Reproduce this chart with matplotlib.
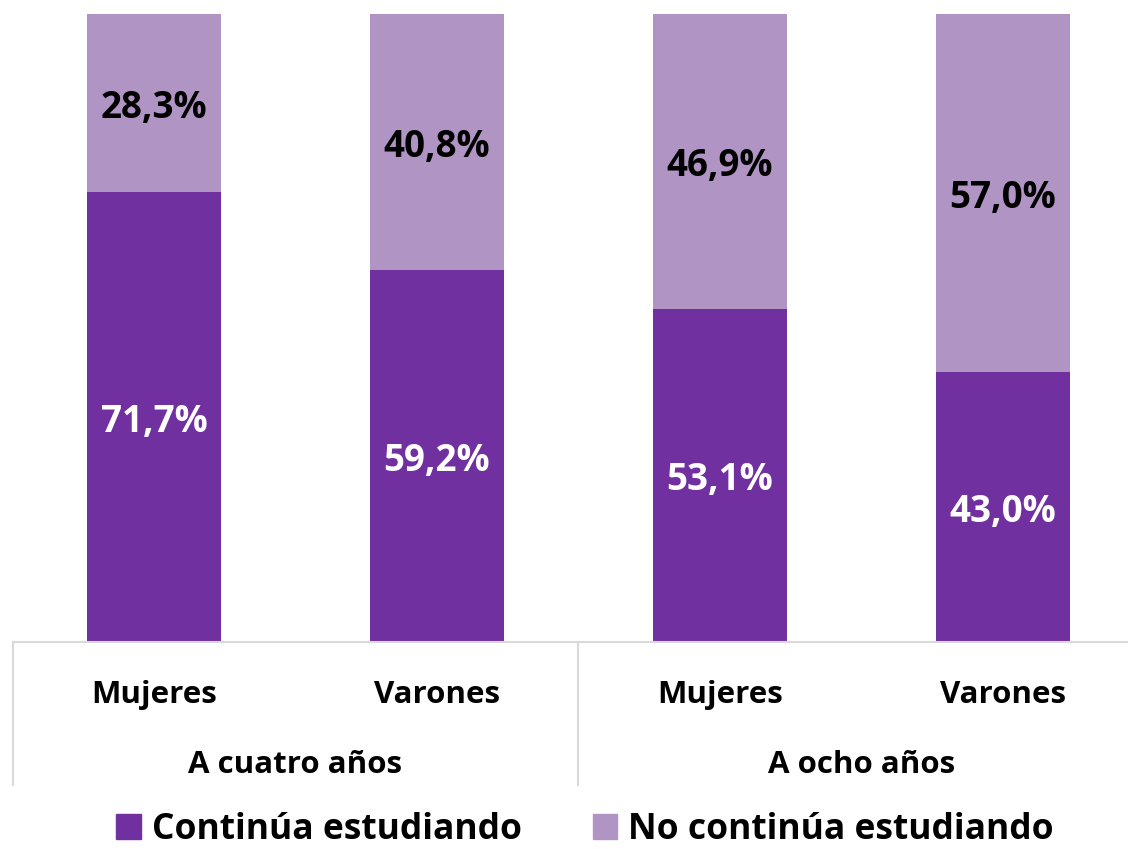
import matplotlib.pyplot as plt
from matplotlib.patches import Patch
from matplotlib.transforms import offset_copy

plt.rcParams['font.family'] = ['Open Sans', 'DejaVu Sans']
plt.rcParams['font.weight'] = 'bold'

categories = ['Mujeres', 'Varones', 'Mujeres', 'Varones']
groups = ['A cuatro años', 'A ocho años']
continua = [71.7, 59.2, 53.1, 43.0]
no_continua = [28.3, 40.8, 46.9, 57.0]

dark = '#7030A0'
light = '#B094C4'
grid = '#D9D9D9'

fig = plt.figure(figsize=(11.28, 8.49), dpi=100)
ax = fig.add_axes([12.5 / 1128, 207 / 849, 1131.5 / 1128, 628 / 849])

x = list(range(len(categories)))
ax.bar(x, continua, width=0.474, color=dark)
ax.bar(x, no_continua, width=0.474, bottom=continua, color=light)

# nudge labels a few pixels down
tdata = offset_copy(ax.transData, fig=fig, x=0, y=-5, units='dots')
txax = offset_copy(ax.get_xaxis_transform(), fig=fig, x=0, y=-3, units='dots')

for i in x:
    ax.text(i, continua[i] / 2, f"{continua[i]:.1f}%".replace('.', ','), transform=tdata,
            ha='center', va='center', color='white', fontsize=26.5, fontweight='bold')
    ax.text(i, continua[i] + no_continua[i] / 2, f"{no_continua[i]:.1f}%".replace('.', ','),
            transform=tdata, ha='center', va='center', color='black', fontsize=26.5,
            fontweight='bold')

ax.set_xlim(-0.5, 3.5)
ax.set_ylim(0, 100)
ax.set_xticks([])
ax.set_yticks([])
for s in ['top', 'right', 'left']:
    ax.spines[s].set_visible(False)
ax.spines['bottom'].set_color(grid)
ax.spines['bottom'].set_linewidth(1.5)

# multi-level category axis
for xs in [-0.5, 1.5, 3.5]:
    ax.plot([xs, xs], [0, -0.2277], color=grid, lw=1.5, clip_on=False,
            transform=ax.get_xaxis_transform())
for i, c in enumerate(categories):
    ax.text(i, -0.0796, c, transform=txax, ha='center', va='center',
            fontsize=22.5, fontweight='bold')
for g, name in enumerate(groups):
    ax.text(2 * g + 0.5, -0.191, name, transform=txax, ha='center',
            va='center', fontsize=22.5, fontweight='bold')

handles = [Patch(color=dark, label='Continúa estudiando'),
           Patch(color=light, label='No continúa estudiando')]
fig.legend(handles=handles, loc='center', bbox_to_anchor=(585 / 1128, 1 - 830 / 849),
           ncol=2, frameon=False, handlelength=0.7, handleheight=0.7, borderpad=0.1,
           handletextpad=0.3, columnspacing=2.0, prop={'weight': 'bold', 'size': 25.5})

fig.savefig('out.png', dpi=100)
